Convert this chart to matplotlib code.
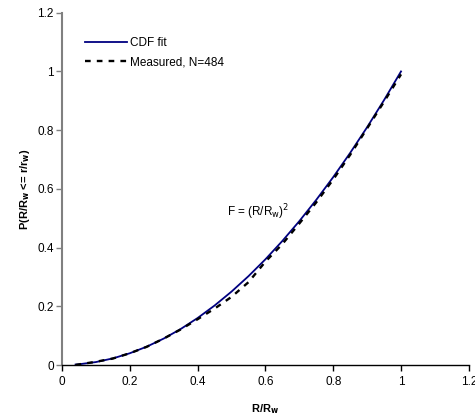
import matplotlib
matplotlib.use("Agg")
import matplotlib.pyplot as plt

plt.rcParams['font.family'] = ['Liberation Sans', 'DejaVu Sans']

# CDF fit F = (R/Rw)^2
fitX = [0.04, 0.05, 0.10, 0.15, 0.20, 0.25, 0.30, 0.35, 0.40, 0.45, 0.50,
        0.55, 0.60, 0.65, 0.70, 0.75, 0.80, 0.85, 0.90, 0.95, 1.00]
fitY = [0.0016, 0.0025, 0.010, 0.0225, 0.040, 0.0625, 0.090, 0.1225, 0.160,
        0.2025, 0.250, 0.3025, 0.360, 0.4225, 0.490, 0.5625, 0.640, 0.7225,
        0.810, 0.9025, 1.000]

# measured, N=484
measX = [0.04, 0.05, 0.10, 0.15, 0.20, 0.25, 0.30, 0.35, 0.40, 0.45, 0.50,
         0.55, 0.60, 0.65, 0.70, 0.75, 0.80, 0.85, 0.90, 0.95, 1.00]
measY = [0.0, 0.002, 0.011, 0.022, 0.040, 0.062, 0.090, 0.121, 0.156, 0.192,
         0.232, 0.282, 0.352, 0.412, 0.482, 0.554, 0.632, 0.716, 0.806, 0.897,
         0.990]

xTicks = [0, 0.2, 0.4, 0.6, 0.8, 1, 1.2]
yTicks = [0, 0.2, 0.4, 0.6, 0.8, 1, 1.2]
tickLabels = ['0', '0.2', '0.4', '0.6', '0.8', '1', '1.2']

fig = plt.figure(figsize=(4.75, 4.17), dpi=100)
ax = fig.add_axes([0.1305, 0.1247, 0.8565, 0.8448])

line0, = ax.plot(fitX, fitY, color='#000080', lw=1.3, label='CDF fit')
line1, = ax.plot(measX, measY, color='black', lw=1.7, dashes=(2.4, 2.6),
                 label='Measured, N=484')

ax.set_xlim(0, 1.2)
ax.set_ylim(0, 1.2)
ax.set_xticks(xTicks)
ax.set_xticklabels(tickLabels)
ax.set_yticks(yTicks)
ax.set_yticklabels(tickLabels)

for s in ['top', 'right']:
    ax.spines[s].set_visible(False)
ax.spines['left'].set_color('#808080')
ax.spines['left'].set_linewidth(1.5)
ax.spines['bottom'].set_color('black')
ax.spines['bottom'].set_linewidth(1.0)
ax.tick_params(axis='y', direction='out', length=4, width=1, color='#808080',
               labelsize=8.5, pad=2)
ax.tick_params(axis='x', direction='out', length=4, width=1, color='black',
               labelsize=8.5, pad=4)

ax.set_xlabel(r'R/R$_\mathbf{w}$', fontsize=8, fontweight='bold', labelpad=10)
ax.set_ylabel(r'P(R/R$_\mathbf{w}$ <= r/r$_\mathbf{w}$)', fontsize=8,
              fontweight='bold', labelpad=4)

ax.text(0.487, 0.52, r'F = (R/R$_\mathrm{w}$)$^2$', fontsize=8.5, ha='left',
        va='center')

leg = ax.legend(handles=[line0, line1], loc='upper left',
                bbox_to_anchor=(0.03, 0.96), frameon=False, fontsize=8.5,
                handlelength=3.6, handletextpad=0.2, labelspacing=0.6)

fig.savefig('out.png', dpi=100)
